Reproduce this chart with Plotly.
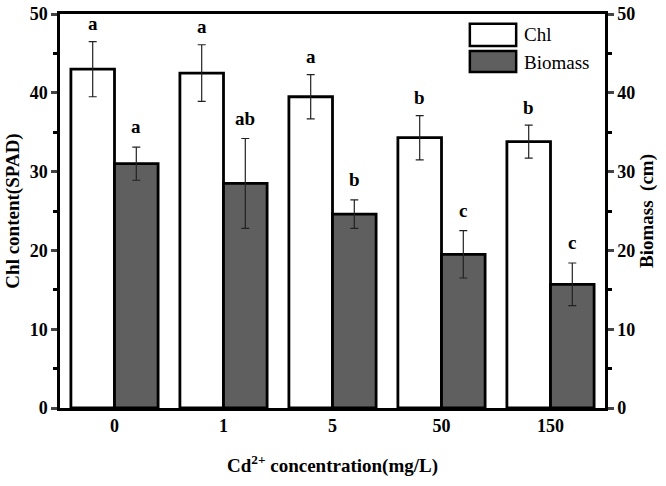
import plotly.graph_objects as go

categories = ["0", "1", "5", "50", "150"]
chl = [43.0, 42.5, 39.5, 34.3, 33.8]
chl_err = [3.5, 3.6, 2.8, 2.8, 2.1]
biomass = [31.0, 28.5, 24.6, 19.5, 15.7]
biomass_err = [2.1, 5.7, 1.8, 3.0, 2.7]
chl_letters = ["a", "a", "a", "b", "b"]
bio_letters = ["a", "ab", "b", "c", "c"]
series_names = ["Chl", "Biomass"]
series_colors = ["white", "#5f5f5f"]

FONT = "Liberation Serif, Times New Roman, serif"

fig = go.Figure()
fig.add_trace(go.Bar(
    x=categories, y=chl, name=series_names[0], showlegend=False,
    marker=dict(color=series_colors[0], line=dict(color="black", width=2.8)),
    error_y=dict(type="data", array=chl_err, color="#222222", thickness=1.2, width=4),
))
fig.add_trace(go.Bar(
    x=categories, y=biomass, name=series_names[1], showlegend=False,
    marker=dict(color=series_colors[1], line=dict(color="black", width=2.8)),
    error_y=dict(type="data", array=biomass_err, color="#222222", thickness=1.2, width=4),
))
# invisible trace to show the right axis
fig.add_trace(go.Scatter(x=categories, y=biomass, yaxis="y2", mode="markers",
                         marker=dict(opacity=0), showlegend=False, hoverinfo="skip"))

for i, c in enumerate(categories):
    fig.add_annotation(x=i - 0.2, y=chl[i] + chl_err[i] + 0.7, text="<b>%s</b>" % chl_letters[i],
                       showarrow=False, yanchor="bottom", xref="x", yref="y",
                       font=dict(family=FONT, size=19, color="black"))
    fig.add_annotation(x=i + 0.2, y=biomass[i] + biomass_err[i] + 1.0, text="<b>%s</b>" % bio_letters[i],
                       showarrow=False, yanchor="bottom", xref="x", yref="y",
                       font=dict(family=FONT, size=19, color="black"))

# manual legend with large swatches
legend_rows = [(0.919, 0.975, 0.947), (0.853, 0.906, 0.878)]
for (y0, y1, yc), name, col in zip(legend_rows, series_names, series_colors):
    fig.add_shape(type="rect", xref="paper", yref="paper", x0=0.752, x1=0.837, y0=y0, y1=y1,
                  fillcolor=col, line=dict(color="black", width=2.5))
    fig.add_annotation(xref="paper", yref="paper", x=0.848, y=yc, text=name, showarrow=False,
                       xanchor="left", yanchor="middle",
                       font=dict(family=FONT, size=19, color="black"))

axis_font = dict(family=FONT, size=18, color="black", weight="bold")
title_font = dict(family=FONT, size=19, color="black", weight="bold")

fig.update_layout(
    width=666, height=486,
    margin=dict(l=60, r=61, t=14, b=78),
    paper_bgcolor="white", plot_bgcolor="white",
    barmode="group", bargap=0.2, bargroupgap=0,
    font=dict(family=FONT, color="black"),
    showlegend=False,
    xaxis=dict(range=[-0.5, 4.5], showline=True, linecolor="black", linewidth=2.5,
               mirror=True, ticks="", tickfont=axis_font, automargin=False,
               title=dict(text="Cd<sup>2+</sup> concentration(mg/L)", font=title_font, standoff=24)),
    yaxis=dict(range=[0, 50], dtick=10, showline=True, linecolor="black", linewidth=2.5,
               ticks="outside", ticklen=6, tickwidth=2.5, showgrid=False, zeroline=False,
               tickfont=axis_font, automargin=False,
               minor=dict(dtick=5, ticks="outside", ticklen=4, tickwidth=2.5, tickcolor="black"),
               title=dict(text="Chl content(SPAD)", font=title_font, standoff=6)),
    yaxis2=dict(range=[0, 50], dtick=10, overlaying="y", side="right", anchor="x",
                showline=True, linecolor="black", linewidth=2.5, automargin=False,
                ticks="outside", ticklen=6, tickwidth=2.5, showgrid=False, zeroline=False,
                tickfont=axis_font,
                minor=dict(dtick=5, ticks="outside", ticklen=4, tickwidth=2.5, tickcolor="black"),
                title=dict(text="Biomass  (cm)", font=title_font, standoff=6)),
)

fig.write_html("out.html", config={"displayModeBar": False},
               post_script="document.body.style.margin='0';")
